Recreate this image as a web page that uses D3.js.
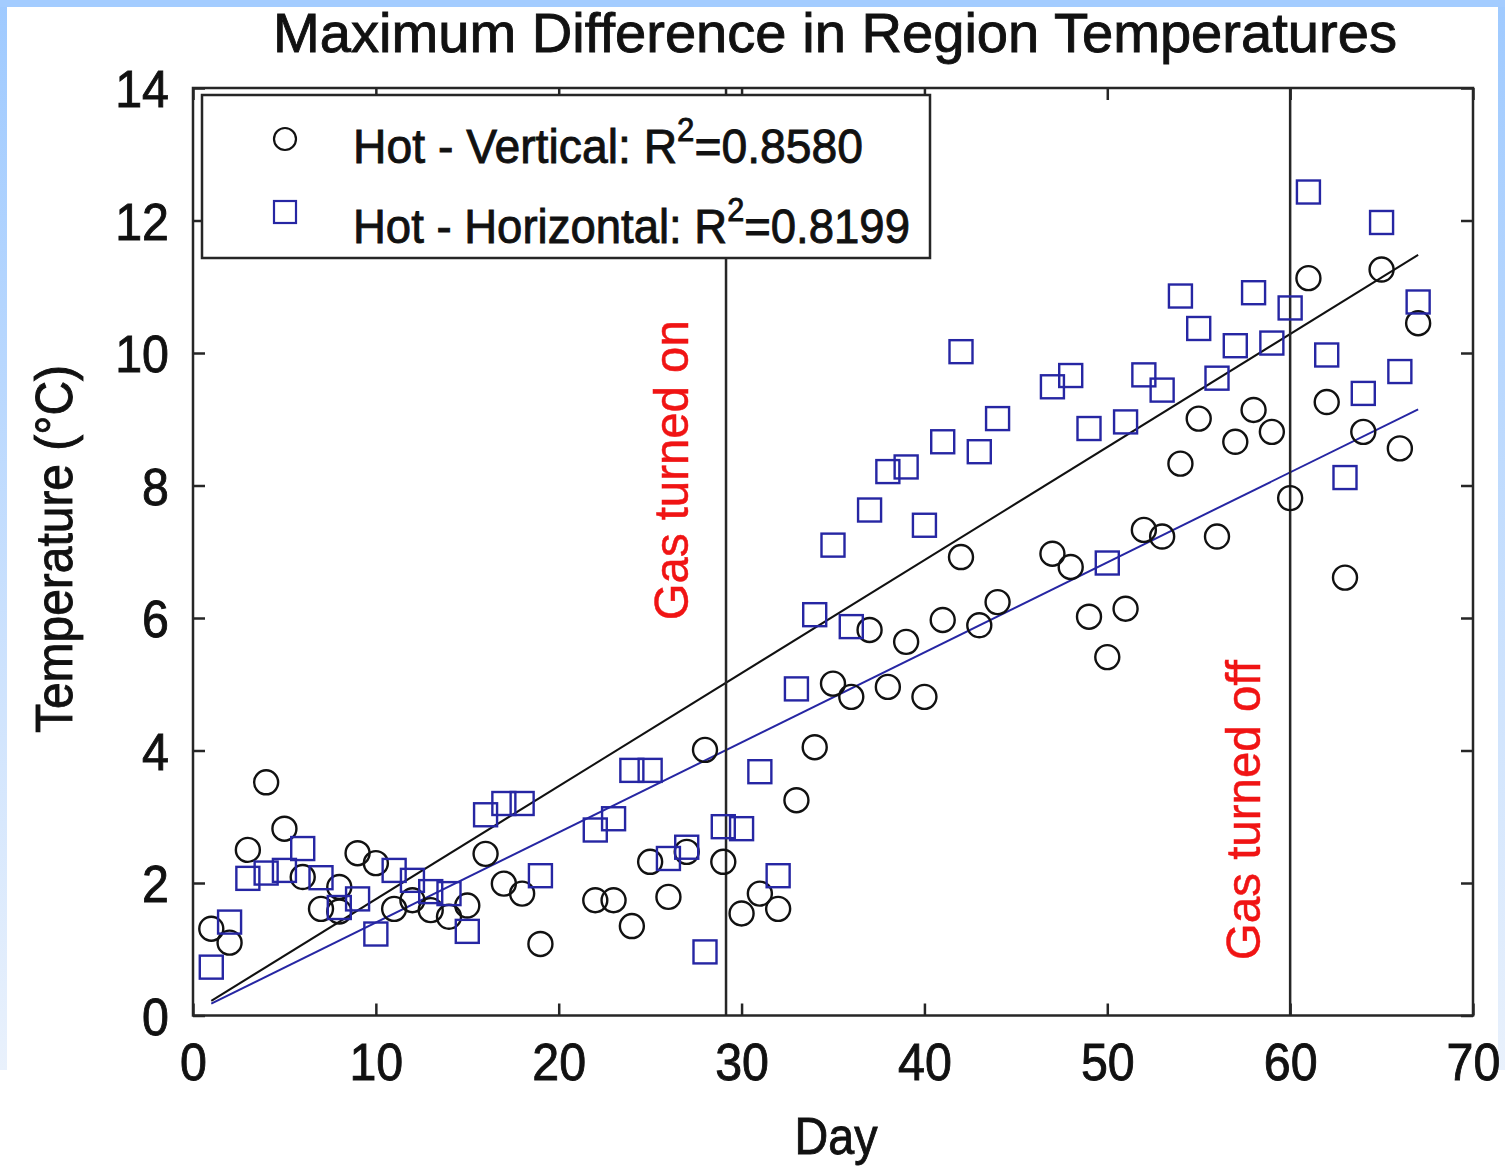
<!DOCTYPE html>
<html>
<head>
<meta charset="utf-8">
<script src="https://cdn.jsdelivr.net/npm/d3@7"></script>
<style>
  html, body { margin: 0; padding: 0; background: #fff; }
  svg { display: block; }
  text { font-family: "Liberation Sans", Arial, Helvetica, sans-serif; }
</style>
</head>
<body>
<svg id="chart" width="1505" height="1167"></svg>
<script>
// ---- data ----
const xTicks = [0, 10, 20, 30, 40, 50, 60, 70];
const yTicks = [0, 2, 4, 6, 8, 10, 12, 14];

// Hot - Vertical (circles)
const vertDays = [1, 2, 3, 4, 5, 6, 7, 8, 8, 9, 10, 11, 12, 13, 14, 15, 16, 17, 18, 19,
  22, 23, 24, 25, 26, 27, 28, 29, 30, 31, 32, 33, 34, 35, 36, 37, 38, 39, 40, 41, 42, 43, 44,
  47, 48, 49, 50, 51, 52, 53, 54, 55, 56, 57, 58, 59, 60, 61, 62, 63, 64, 65, 66, 67];
const vertTemps = [1.31, 1.10, 2.50, 3.52, 2.82, 2.09, 1.61, 1.94, 1.57, 2.45, 2.30, 1.61, 1.74, 1.59, 1.49, 1.66, 2.44, 1.99, 1.84, 1.08,
  1.74, 1.74, 1.35, 2.32, 1.79, 2.47, 4.01, 2.32, 1.54, 1.84, 1.61, 3.25, 4.05, 5.01, 4.81, 5.82, 4.96, 5.64, 4.81, 5.97, 6.92, 5.89, 6.24,
  6.97, 6.77, 6.02, 5.41, 6.14, 7.33, 7.23, 8.33, 9.01, 7.23, 8.66, 9.14, 8.81, 7.81, 11.13, 9.26, 6.61, 8.81, 11.26, 8.56, 10.45];

// Hot - Horizontal (squares)
const horizDays = [1, 2, 3, 4, 5, 6, 7, 8, 9, 10, 11, 12, 13, 14, 15, 16, 17, 18, 19,
  22, 23, 24, 25, 26, 27, 28, 29, 30, 31, 32, 33, 34, 35, 36, 37, 38, 39, 40, 41, 42, 43, 44,
  47, 48, 49, 50, 51, 52, 53, 54, 55, 56, 57, 58, 59, 60, 61, 62, 63, 64, 65, 66, 67];
const horizTemps = [0.73, 1.41, 2.07, 2.15, 2.19, 2.52, 2.08, 1.63, 1.76, 1.23, 2.19, 2.04, 1.87, 1.84, 1.27, 3.03, 3.20, 3.20, 2.11,
  2.80, 2.97, 3.70, 3.70, 2.37, 2.54, 0.96, 2.85, 2.82, 3.68, 2.11, 4.93, 6.05, 7.10, 5.87, 7.63, 8.21, 8.28, 7.40, 8.66, 10.02, 8.51, 9.01,
  9.49, 9.66, 8.86, 6.83, 8.96, 9.67, 9.44, 10.86, 10.37, 9.62, 10.11, 10.91, 10.15, 10.68, 12.43, 9.97, 8.12, 9.39, 11.97, 9.72, 10.77];

// linear fits (value at first and last day)
const fitDays = [1, 67];
const vertFit = [0.22, 11.48];
const horizFit = [0.18, 9.15];

// gas events
const gasDays = [29.15, 60];
const gasLabels = ["Gas turned on", "Gas turned off"];

const seriesNames = ["Hot - Vertical: R", "Hot - Horizontal: R"];
const seriesR2 = ["=0.8580", "=0.8199"];

// ---- layout ----
const svg = d3.select("#chart");
const W = 1505, H = 1167;
const plotLeft = 193, plotRight = 1473, plotTop = 88, plotBottom = 1015.5;
const BLUE = "#2626a3";
const AXIS = "#262626";
const INK = "#111";

const x = d3.scaleLinear().domain([0, 70]).range([plotLeft, plotRight]);
const y = d3.scaleLinear().domain([0, 14]).range([plotBottom, plotTop]);

// page background and pale blue edge
const defs = svg.append("defs");
const grad = defs.append("linearGradient").attr("id", "edge").attr("x1", 0).attr("y1", 0).attr("x2", 0).attr("y2", 1);
grad.append("stop").attr("offset", "0%").attr("stop-color", "#9fcaff");
grad.append("stop").attr("offset", "100%").attr("stop-color", "#e9f1fc");
svg.append("rect").attr("width", W).attr("height", H).attr("fill", "#fff");
svg.append("rect").attr("x", 0).attr("y", 0).attr("width", 7).attr("height", 1070).attr("fill", "url(#edge)");
svg.append("rect").attr("x", W - 7).attr("y", 0).attr("width", 7).attr("height", 1070).attr("fill", "url(#edge)");
svg.append("rect").attr("x", 0).attr("y", 0).attr("width", W).attr("height", 7).attr("fill", "#a3ccff");

// title
svg.append("text")
  .attr("x", 835).attr("y", 52)
  .attr("text-anchor", "middle")
  .attr("font-size", 56)
  .attr("fill", INK)
  .attr("stroke", INK).attr("stroke-width", 0.9)
  .attr("textLength", 1124).attr("lengthAdjust", "spacingAndGlyphs")
  .text("Maximum Difference in Region Temperatures");

// axes (ticks point inward)
const gx = svg.append("g").attr("transform", `translate(0,${plotBottom})`)
  .call(d3.axisBottom(x).tickValues(xTicks).tickSizeInner(-12).tickSizeOuter(0).tickPadding(0));
const gxTop = svg.append("g").attr("transform", `translate(0,${plotTop})`)
  .call(d3.axisTop(x).tickValues(xTicks).tickSizeInner(-12).tickSizeOuter(0).tickFormat(""));
const gy = svg.append("g").attr("transform", `translate(${plotLeft},0)`)
  .call(d3.axisLeft(y).tickValues(yTicks).tickSizeInner(-12).tickSizeOuter(0).tickPadding(0));
const gyRight = svg.append("g").attr("transform", `translate(${plotRight},0)`)
  .call(d3.axisRight(y).tickValues(yTicks).tickSizeInner(-12).tickSizeOuter(0).tickFormat(""));

[gx, gxTop, gy, gyRight].forEach(g => {
  g.select(".domain").remove();
  g.selectAll(".tick line").attr("stroke", AXIS).attr("stroke-width", 2.5);
});

gx.selectAll(".tick text")
  .attr("y", 0).attr("dy", null)
  .attr("transform", "translate(0,64.5) scale(0.93,1)")
  .attr("font-size", 52).attr("fill", INK)
  .attr("stroke", INK).attr("stroke-width", 0.9)
  .attr("font-family", "Liberation Sans, Arial, sans-serif");
gy.selectAll(".tick text")
  .attr("x", 0).attr("dy", "0.36em")
  .attr("text-anchor", "end")
  .attr("transform", "translate(-24,0) scale(0.93,1)")
  .attr("font-size", 52).attr("fill", INK)
  .attr("stroke", INK).attr("stroke-width", 0.9)
  .attr("font-family", "Liberation Sans, Arial, sans-serif");

// axis titles
svg.append("text")
  .attr("x", 836).attr("y", 1154)
  .attr("text-anchor", "middle")
  .attr("font-size", 52).attr("fill", INK)
  .attr("stroke", INK).attr("stroke-width", 0.9)
  .attr("textLength", 83).attr("lengthAdjust", "spacingAndGlyphs")
  .text("Day");
svg.append("text")
  .attr("transform", "translate(72,549) rotate(-90)")
  .attr("text-anchor", "middle")
  .attr("font-size", 52).attr("fill", INK)
  .attr("stroke", INK).attr("stroke-width", 0.9)
  .attr("textLength", 368).attr("lengthAdjust", "spacingAndGlyphs")
  .text("Temperature (°C)");

// plot contents
const plot = svg.append("g");

// fitted lines
const line = d3.line().x(d => x(d[0])).y(d => y(d[1]));
plot.append("path")
  .datum(fitDays.map((d, i) => [d, vertFit[i]]))
  .attr("d", line).attr("fill", "none").attr("stroke", INK).attr("stroke-width", 2);
plot.append("path")
  .datum(fitDays.map((d, i) => [d, horizFit[i]]))
  .attr("d", line).attr("fill", "none").attr("stroke", BLUE).attr("stroke-width", 2);

// gas on / off markers
plot.selectAll(".gas")
  .data(gasDays)
  .join("line")
  .attr("class", "gas")
  .attr("x1", d => x(d)).attr("x2", d => x(d))
  .attr("y1", plotTop).attr("y2", plotBottom)
  .attr("stroke", AXIS).attr("stroke-width", 2.5);

const gasLabelAt = [{ dx: -38, t: 8.23 }, { dx: -30, t: 3.1 }];
plot.selectAll(".gasLabel")
  .data(gasDays)
  .join("text")
  .attr("class", "gasLabel")
  .attr("transform", (d, i) => `translate(${x(d) + gasLabelAt[i].dx},${y(gasLabelAt[i].t)}) rotate(-90)`)
  .attr("text-anchor", "middle")
  .attr("font-size", 49)
  .attr("fill", "#f01414")
  .attr("stroke", "#f01414").attr("stroke-width", 0.5)
  .attr("textLength", 300).attr("lengthAdjust", "spacingAndGlyphs")
  .text((d, i) => gasLabels[i]);

// data markers
const vertPts = vertDays.map((d, i) => [d, vertTemps[i]]);
const horizPts = horizDays.map((d, i) => [d, horizTemps[i]]);

plot.selectAll(".vert")
  .data(vertPts)
  .join("circle")
  .attr("class", "vert")
  .attr("cx", d => x(d[0])).attr("cy", d => y(d[1]))
  .attr("r", 12)
  .attr("fill", "none").attr("stroke", INK).attr("stroke-width", 2.4);

const sq = 23;
plot.selectAll(".horiz")
  .data(horizPts)
  .join("rect")
  .attr("class", "horiz")
  .attr("x", d => x(d[0]) - sq / 2).attr("y", d => y(d[1]) - sq / 2)
  .attr("width", sq).attr("height", sq)
  .attr("fill", "none").attr("stroke", BLUE).attr("stroke-width", 2.4);

// axes frame
svg.append("rect")
  .attr("x", plotLeft).attr("y", plotTop)
  .attr("width", plotRight - plotLeft).attr("height", plotBottom - plotTop)
  .attr("fill", "none").attr("stroke", AXIS).attr("stroke-width", 2.5);

// legend
const lg = svg.append("g");
lg.append("rect")
  .attr("x", 202).attr("y", 95).attr("width", 728).attr("height", 163)
  .attr("fill", "#fff").attr("stroke", AXIS).attr("stroke-width", 2.5);
lg.append("circle")
  .attr("cx", 285).attr("cy", 139).attr("r", 11)
  .attr("fill", "none").attr("stroke", INK).attr("stroke-width", 2.2);
lg.append("rect")
  .attr("x", 285 - 11).attr("y", 212 - 11).attr("width", 22).attr("height", 22)
  .attr("fill", "none").attr("stroke", BLUE).attr("stroke-width", 2.2);

const legendWidths = [510, 557];
const legendBase = [163, 243];
seriesNames.forEach((name, i) => {
  const t = lg.append("text")
    .attr("x", 353).attr("y", legendBase[i])
    .attr("font-size", 49).attr("fill", INK)
    .attr("stroke", INK).attr("stroke-width", 0.9)
    .attr("textLength", legendWidths[i]).attr("lengthAdjust", "spacingAndGlyphs");
  t.append("tspan").text(name);
  t.append("tspan").attr("dy", -22).attr("font-size", 33).text("2");
  t.append("tspan").attr("dy", 22).text(seriesR2[i]);
});
</script>
</body>
</html>
